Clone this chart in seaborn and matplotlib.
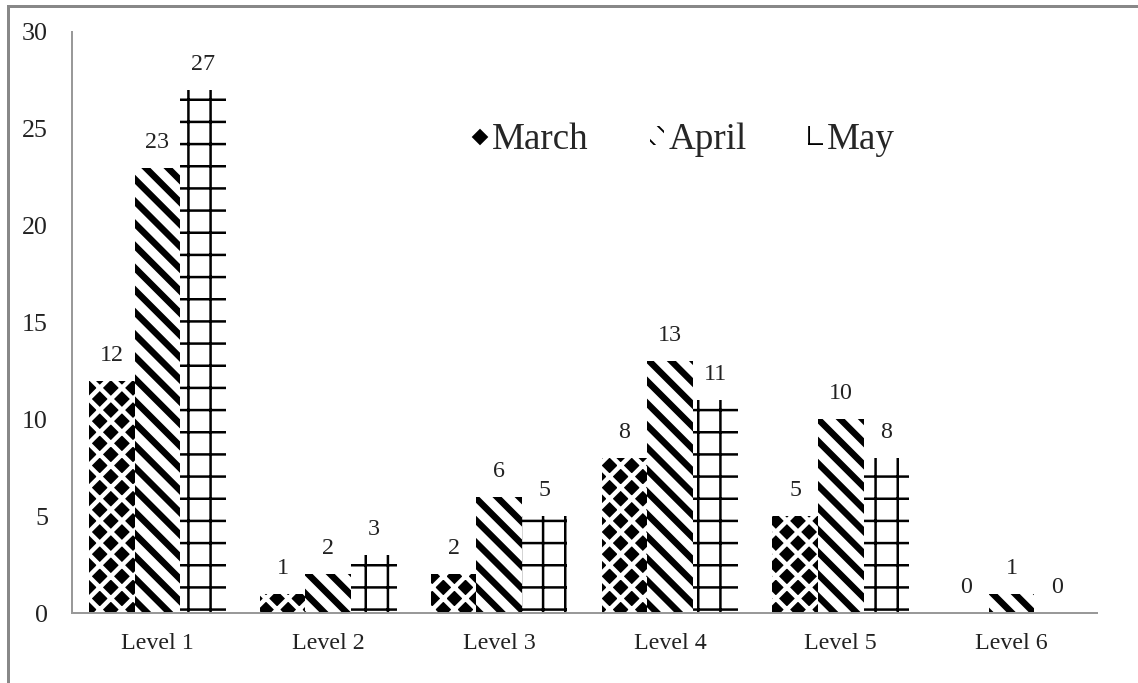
import pandas as pd
import matplotlib
matplotlib.use("Agg")
import matplotlib.pyplot as plt
import seaborn as sns
from matplotlib.patches import Rectangle
from matplotlib.lines import Line2D

# datos
niveles = ["Level 1", "Level 2", "Level 3", "Level 4", "Level 5", "Level 6"]
meses = ["March", "April", "May"]
march = [12, 1, 2, 8, 5, 0]
april = [23, 2, 6, 13, 10, 1]
may = [27, 3, 5, 11, 8, 0]

df = pd.DataFrame({
    "nivel": niveles * 3,
    "mes": ["March"] * 6 + ["April"] * 6 + ["May"] * 6,
    "valor": march + april + may,
})

# dpi elegido para que las tramas tengan el espaciado del original (~22 px)
DPI = 400 / 3


def px(v):
    # píxeles -> puntos
    return v * 72 / DPI


sns.set_style("white")
plt.rcParams["font.family"] = ["Liberation Serif", "DejaVu Serif"]

fig = plt.figure(figsize=(1138 / DPI, 683 / DPI), dpi=DPI)
ax = fig.add_axes([72 / 1138, 1 - 613 / 683, (1097 - 72) / 1138, (613 - 32) / 683])

sns.barplot(data=df, x="nivel", y="valor", hue="mes", order=niveles, hue_order=meses,
            palette=["black", "white", "white"], width=0.8, ax=ax, legend=False)

# tramas: diamantes, diagonales, cuadrícula
estilos = [("black", "white", "xx", px(4.5)),
           ("white", "black", "\\\\", px(6.5)),
           ("white", "black", "+", px(2.5))]
for cont, (fc, hc, h, lw) in zip(ax.containers, estilos):
    for p in cont:
        p.set_facecolor(fc)
        p.set_edgecolor(hc)
        p.set_linewidth(0)
        p.set_hatch(h)
        if hasattr(p, "set_hatch_linewidth"):
            p.set_hatch_linewidth(lw)
    ax.bar_label(cont, labels=[str(int(v)) for v in cont.datavalues],
                 padding=px(15), fontsize=px(24), color="#222222")

ax.set_ylim(0, 30)
ax.set_yticks([0, 5, 10, 15, 20, 25, 30])
ax.set_xlabel("")
ax.set_ylabel("")
ax.tick_params(axis="y", length=0, pad=px(24), labelsize=px(26))
ax.tick_params(axis="x", length=0, pad=px(20), labelsize=px(24))
for lab in ax.get_xticklabels() + ax.get_yticklabels():
    lab.set_color("#222222")
sns.despine(ax=ax, top=True, right=True)
for lado in ["left", "bottom"]:
    ax.spines[lado].set_color("#999999")
    ax.spines[lado].set_linewidth(px(2))

# leyenda con marcadores pequeños
h_march = Line2D([], [], marker="D", color="black", linestyle="", markersize=px(10))
h_april = ax.containers[1].patches[0]
h_may = ax.containers[2].patches[0]
leg = ax.legend([h_march, h_april, h_may], meses, loc="center", bbox_to_anchor=(0.597, 0.815),
                ncol=3, frameon=False, fontsize=px(37), handlelength=0.4, handleheight=0.4,
                handletextpad=0.12, columnspacing=1.65)

# marco gris alrededor de la figura
fig.patches.append(Rectangle((8 / 1138, -0.2), 1.2, 0.2 + (1 - 6 / 683), transform=fig.transFigure,
                             fill=False, edgecolor="#888888", linewidth=px(3), clip_on=False))

fig.savefig("out.png", dpi=DPI)
